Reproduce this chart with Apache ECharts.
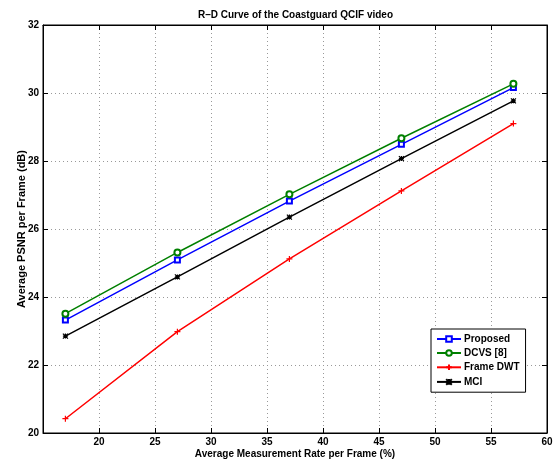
<!DOCTYPE html>
<html>
<head>
<meta charset="utf-8">
<script src="https://cdn.jsdelivr.net/npm/echarts@6/dist/echarts.min.js"></script>
<style>
html,body{margin:0;padding:0;background:#fff;}
#main{width:560px;height:459px;}
</style>
</head>
<body>
<div id="main"></div>
<script>
// 测量率 (%)
var rates=[17,27,37,47,57];
var proposed=[23.32,25.09,26.82,28.49,30.16];
var dcvs=[23.51,25.31,27.02,28.67,30.27];
var frameDwt=[20.42,22.98,25.12,27.12,29.10];
var mci=[22.85,24.59,26.35,28.07,29.77];
var seriesNames=['Proposed','DCVS [8]','Frame DWT','MCI'];

var FONT='"Liberation Sans", Arial, sans-serif';
var plusPath='path://M0,5L10,5M5,0L5,10';
var crossPath='path://M0,0L10,10M10,0L0,10M5,0L5,10M0,5L10,5';

function pairs(ys){
	var out=[];
	for(var i=0;i<rates.length;i++){
		out.push([rates[i],ys[i]]);
	}
	return out;
}

var myChart=echarts.init(document.getElementById('main'));
var option={
	backgroundColor:'#fff',
	animation:false,
	title:{
		text:'R\u2013D Curve of the Coastguard QCIF video',
		left:198,
		top:10,
		padding:0,
		textStyle:{fontFamily:FONT,fontSize:10,fontWeight:'bold',color:'#000'}
	},
	grid:{
		left:43,right:13,top:25,bottom:26,
		outerBoundsMode:'none',
		show:true,borderColor:'#000',borderWidth:1,backgroundColor:'#fff'
	},
	legend:{
		orient:'vertical',
		left:431,top:329,
		padding:[5,6,5,5],
		itemGap:4,
		itemWidth:24,
		itemHeight:7,
		backgroundColor:'#fff',
		borderColor:'#000',
		borderWidth:1,
		textStyle:{fontFamily:FONT,fontSize:10,fontWeight:'bold',color:'#000',padding:[0,0,0,-2]},
		data:seriesNames
	},
	xAxis:[
		{
			type:'value',min:15,max:60,interval:5,
			name:'Average Measurement Rate per Frame (%)',
			nameLocation:'middle',nameGap:16,nameMoveOverlap:false,
			nameTextStyle:{fontFamily:FONT,fontSize:10,fontWeight:'bold',color:'#000'},
			axisLine:{lineStyle:{color:'#000',width:1}},
			axisTick:{inside:true,length:5,lineStyle:{color:'#000'}},
			axisLabel:{fontFamily:FONT,fontSize:10,fontWeight:'bold',color:'#000',margin:4,
				formatter:function(v){return (v==15)?'':v;}},
			splitLine:{show:true,lineStyle:{color:'#999',type:[1,3],width:1}}
		},
		{
			type:'value',min:15,max:60,interval:5,position:'top',
			axisLine:{lineStyle:{color:'#000'}},
			axisTick:{inside:true,length:5,lineStyle:{color:'#000'}},
			axisLabel:{show:false},
			splitLine:{show:false}
		}
	],
	yAxis:[
		{
			type:'value',min:20,max:32,interval:2,
			name:'Average PSNR per Frame (dB)',
			nameLocation:'middle',nameGap:16,nameMoveOverlap:false,
			nameTextStyle:{fontFamily:FONT,fontSize:11,fontWeight:'bold',color:'#000'},
			axisLine:{lineStyle:{color:'#000',width:1}},
			axisTick:{inside:true,length:5,lineStyle:{color:'#000'}},
			axisLabel:{fontFamily:FONT,fontSize:10,fontWeight:'bold',color:'#000',margin:4},
			splitLine:{show:true,lineStyle:{color:'#999',type:[1,3],width:1}}
		},
		{
			type:'value',min:20,max:32,interval:2,position:'right',
			axisLine:{lineStyle:{color:'#000'}},
			axisTick:{inside:true,length:5,lineStyle:{color:'#000'}},
			axisLabel:{show:false},
			splitLine:{show:false}
		}
	],
	series:[
		{
			name:'Proposed',type:'line',data:pairs(proposed),
			symbol:'emptyRect',symbolSize:5,
			lineStyle:{color:'#0000ff',width:1.5},
			itemStyle:{color:'#0000ff',borderColor:'#0000ff',borderWidth:1.2}
		},
		{
			name:'DCVS [8]',type:'line',data:pairs(dcvs),
			symbol:'emptyCircle',symbolSize:6,
			lineStyle:{color:'#008000',width:1.5},
			itemStyle:{color:'#008000',borderColor:'#008000',borderWidth:1.2}
		},
		{
			name:'Frame DWT',type:'line',data:pairs(frameDwt),
			symbol:plusPath,symbolSize:6,
			lineStyle:{color:'#ff0000',width:1.5},
			itemStyle:{color:'none',borderColor:'#ff0000',borderWidth:1.2}
		},
		{
			name:'MCI',type:'line',data:pairs(mci),
			symbol:crossPath,symbolSize:5,
			lineStyle:{color:'#000',width:1.5},
			itemStyle:{color:'none',borderColor:'#000',borderWidth:1.2}
		}
	]
};
myChart.setOption(option);
</script>
</body>
</html>
